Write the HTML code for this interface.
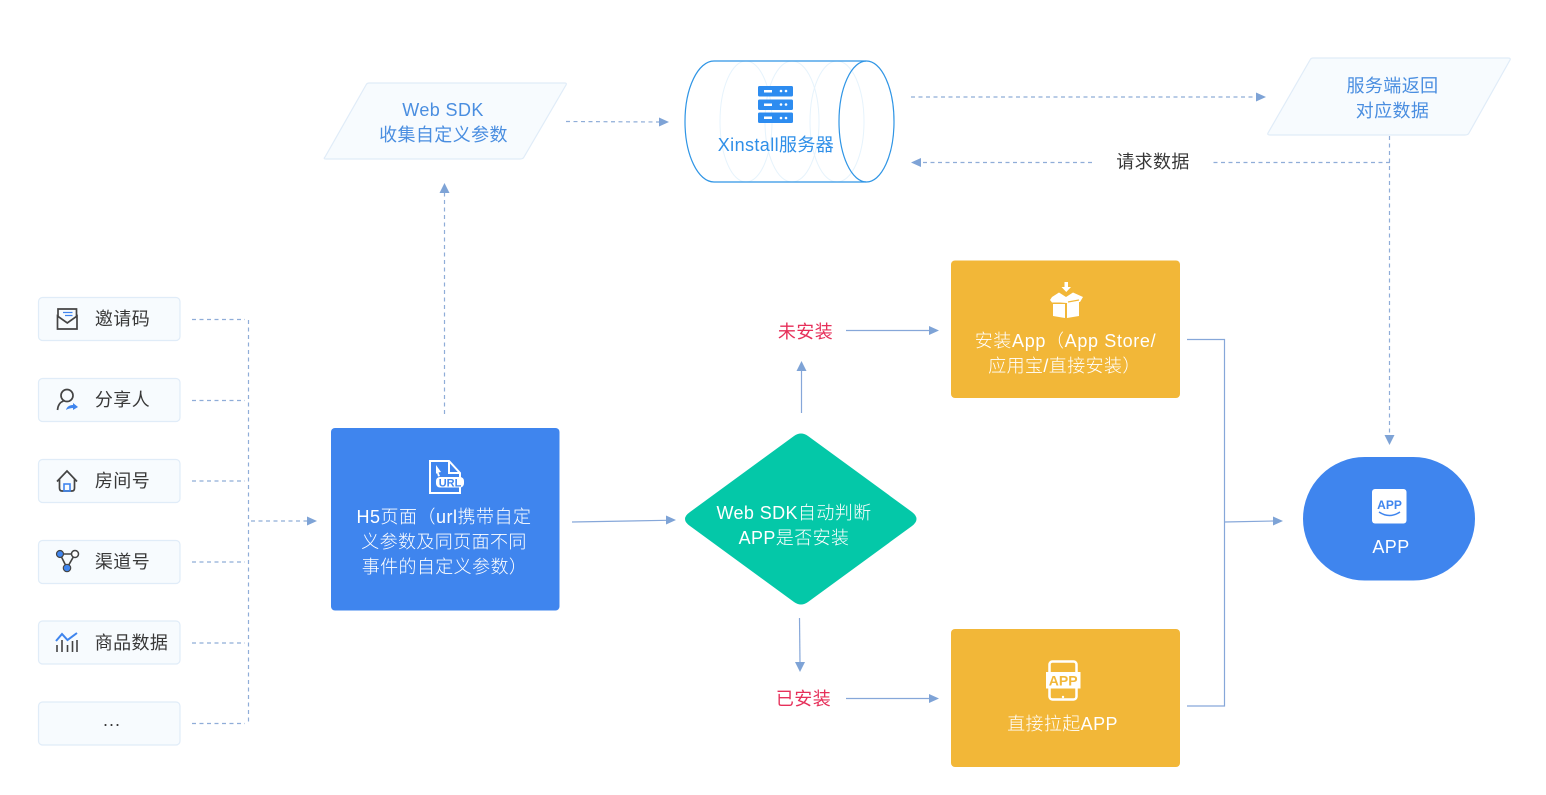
<!DOCTYPE html>
<html lang="zh">
<head>
<meta charset="utf-8">
<style>
html,body{margin:0;padding:0;background:#fff;width:1546px;height:795px;overflow:hidden}
svg{display:block}
text{font-family:"Liberation Sans","Noto Sans CJK SC",sans-serif;font-size:18px;text-anchor:middle;font-weight:300;letter-spacing:.4px}
.b{fill:#f7fbfe;stroke:#e0ecf8;stroke-width:1.2}
.d{fill:none;stroke:#8fadd8;stroke-width:1.2;stroke-dasharray:4 3.5}
.s{fill:none;stroke:#86a7d9;stroke-width:1.2}
.h{fill:#7ea3d6}
.k{fill:#383838;font-weight:400}
.w{fill:#fff}
.u{fill:#4a8ee0;font-weight:400}
.r{fill:#e6305a;font-weight:400}
.i{fill:none;stroke:#444;stroke-width:1.7}
.blue{fill:#3f85ee}
</style>
</head>
<body>
<svg width="1546" height="795" viewBox="0 0 1546 795" xmlns="http://www.w3.org/2000/svg">
<rect x="38.5" y="297.5" width="141.500" height="43" rx="4" class="b"/>
<rect x="38.5" y="378.5" width="141.500" height="43" rx="4" class="b"/>
<rect x="38.5" y="459.500" width="141.500" height="43" rx="4" class="b"/>
<rect x="38.5" y="540.500" width="141.500" height="43" rx="4" class="b"/>
<rect x="38.5" y="621" width="141.500" height="43" rx="4" class="b"/>
<rect x="38.500" y="702" width="141.500" height="43" rx="4" class="b"/>
<text x="122.500" y="325" class="k">邀请码</text>
<text x="122.500" y="406" class="k">分享人</text>
<text x="122.500" y="487" class="k">房间号</text>
<text x="122.500" y="568" class="k">渠道号</text>
<text x="131.500" y="649" class="k">商品数据</text>
<text x="112" y="726" class="k" style="letter-spacing:1px">...</text>

<!-- left icons -->
<path class="i" d="M57.500 316V329H77V316L67.300 323Z"/>
<path class="i" d="M58 316V309H76.500V316"/>
<path d="M63 312.500H72.500M65 315.500H72.500" stroke="#3f85ee" stroke-width="1.300" fill="none"/>
<circle cx="67" cy="395.500" r="6" class="i"/>
<path class="i" d="M57.500 410C58 404.500 60.500 402 63.500 401"/>
<path d="M66 410C67 406 70.500 405 73 405V403L78 407L73 410V408C71 408 68.500 408.500 66 410Z" fill="#3f85ee"/>
<path class="i" d="M57 481.500L67 471L77 481.500M59.500 479.500V488Q59.500 491 62 491H72Q74.500 491 74.500 488V479.500"/>
<rect x="64" y="484" width="6" height="7" fill="none" stroke="#3f85ee" stroke-width="1.600"/>
<path d="M60 554L67 568L75 554H60" stroke="#444" stroke-width="1.600" fill="none"/>
<circle cx="60" cy="554" r="3.500" fill="#3f85ee" stroke="#444" stroke-width="1.200"/>
<circle cx="75" cy="554" r="3.500" fill="#fff" stroke="#444" stroke-width="1.500"/>
<circle cx="67" cy="568" r="3.700" fill="#3f85ee" stroke="#444" stroke-width="1.200"/>
<path d="M56 641L62 634L67.500 640L77 633" stroke="#3f85ee" stroke-width="2" fill="none"/>
<path d="M57 645V652M62 640V652M67.500 645V652M72.500 641V652M77 640V652" stroke="#444" stroke-width="1.600" fill="none"/>

<!-- dashed input connectors -->
<path class="d" d="M192 319.500H245M192 400.500H245M192 481H245M192 562H245M192 643H245M192 723.500H245"/>
<path class="d" d="M248.500 320V722"/>
<path class="d" d="M251 521H308"/>
<path class="h" d="M317 521L307 516.500V525.500Z"/>

<!-- H5 -->
<rect x="331" y="428" width="228.500" height="182.500" rx="4" class="blue"/>
<path d="M430 461H449L460 473V493H430Z" fill="none" stroke="#fff" stroke-width="2"/>
<path d="M449 461V473H460" fill="none" stroke="#fff" stroke-width="2"/>
<path d="M436 465L441 472L438.500 472.500L440 476L438 476.500L437 473L436 474Z" fill="#fff"/>
<rect x="436" y="477" width="28" height="10.500" rx="4" class="w"/>
<text x="450" y="486.500" style="font-size:11px;font-weight:700;fill:#3f85ee;letter-spacing:0">URL</text>
<text x="444" y="523" class="w" style="letter-spacing:.5px">H5页面（url携带自定</text>
<text x="444" y="548" class="w">义参数及同页面不同</text>
<text x="444.500" y="573" class="w">事件的自定义参数）</text>

<!-- Web SDK -->
<path d="M369 83H565Q567 83 566 85L524 157Q523 159 520 159H326Q323 159 325 157L366 85Q367 83 369 83Z" class="b"/>
<text x="443" y="116" class="u">Web SDK</text>
<text x="443.500" y="141" class="u">收集自定义参数</text>
<path class="d" d="M444.500 414V193"/>
<path class="h" d="M444.500 183L439.500 193H449.500Z"/>
<path class="d" d="M566 121.500L660 122"/>
<path class="h" d="M669 122L659 117.500V126.500Z"/>

<!-- Cylinder -->
<ellipse cx="746" cy="121.500" rx="26" ry="60.500" fill="none" stroke="#e6f3fc" stroke-width="1"/>
<ellipse cx="792" cy="121.500" rx="27" ry="60.500" fill="none" stroke="#e6f3fc" stroke-width="1"/>
<ellipse cx="837" cy="121.500" rx="27" ry="60.500" fill="none" stroke="#e6f3fc" stroke-width="1"/>
<path d="M866 61H714C698 61 685 88 685 121.500C685 155 698 182 714 182H866" fill="none" stroke="#2f95e5" stroke-width="1.200"/>
<ellipse cx="866.500" cy="121.500" rx="27.500" ry="60.500" fill="none" stroke="#2f95e5" stroke-width="1.200"/>
<g fill="#2d8cf0">
<rect x="758" y="86" width="35" height="10.500" rx="1.500"/>
<rect x="758" y="99.500" width="35" height="10.500" rx="1.500"/>
<rect x="758" y="112.500" width="35" height="10.500" rx="1.500"/>
</g>
<g fill="#fff">
<rect x="764" y="90" width="8" height="2.500"/><rect x="764" y="103.500" width="8" height="2.500"/><rect x="764" y="116.500" width="8" height="2.500"/>
<circle cx="781" cy="91" r="1.300"/><circle cx="786" cy="91" r="1.300"/>
<circle cx="781" cy="104.500" r="1.300"/><circle cx="786" cy="104.500" r="1.300"/>
<circle cx="781" cy="118" r="1.300"/><circle cx="786" cy="118" r="1.300"/>
</g>
<text x="776" y="151" style="fill:#2f8fe8;font-weight:400">Xinstall服务器</text>

<!-- top right -->
<path class="d" d="M911 97H1256"/>
<path class="h" d="M1266 97L1256 92.500V101.500Z"/>
<path d="M1313 58H1508Q1511 58 1510 60L1469 133Q1468 135 1465 135H1270Q1267 135 1268 133L1310 60Q1311 58 1313 58Z" class="b"/>
<text x="1392.500" y="92" class="u">服务端返回</text>
<text x="1392.500" y="117" class="u">对应数据</text>
<path class="d" d="M1389.500 136V435"/>
<path class="h" d="M1389.500 445L1384.500 435H1394.500Z"/>
<path class="d" d="M1390 162.500H1210M1092 162.500H921"/>
<path class="h" d="M911 162.500L921 158V167Z"/>
<text x="1153" y="168" class="k">请求数据</text>

<!-- center -->
<path class="s" d="M572 522L667 520.300"/>
<path class="h" d="M676 520L666 515.500V524.500Z"/>
<path d="M794 436Q801 431 808 436L912 512Q921 519 912 526L808 602Q801 607 794 602L690 526Q680 519 690 512Z" fill="#04c8a8"/>
<text x="794" y="519" class="w">Web SDK自动判断</text>
<text x="794" y="544" class="w">APP是否安装</text>
<path class="s" d="M801.500 413V370"/>
<path class="h" d="M801.500 361L796.500 371H806.500Z"/>
<path class="s" d="M799.500 618L800 663"/>
<path class="h" d="M800 672L795 662H805Z"/>
<text x="805.500" y="338" class="r">未安装</text>
<text x="803.500" y="705" class="r">已安装</text>
<path class="s" d="M846 330.500H930"/>
<path class="h" d="M939 330.500L929 326V335Z"/>
<path class="s" d="M846 698.500H930"/>
<path class="h" d="M939 698.500L929 694V703Z"/>

<!-- yellow boxes -->
<rect x="951" y="260.500" width="229" height="137.500" rx="4" fill="#f2b738"/>
<rect x="951" y="629" width="229" height="138" rx="4" fill="#f2b738"/>
<path d="M1064.500 282H1068V287H1071L1066.300 292L1061.500 287H1064.500Z" class="w"/>
<path d="M1052 297L1059 292.500L1066 297L1073 292.500L1083 297L1080 302H1079V316L1067 318V303L1060 302.500H1052L1050 300Z" class="w"/>
<path d="M1053 304H1065V318L1053 316Z" class="w"/>
<path d="M1068 302L1079 300" stroke="#f2b738" stroke-width="1.200"/>
<text x="1065.500" y="347" class="w" style="letter-spacing:.65px">安装App（App Store/</text>
<text x="1064.500" y="372" class="w">应用宝/直接安装）</text>
<rect x="1049.500" y="661.500" width="27" height="38" rx="3" fill="none" stroke="#fff" stroke-width="2.500"/>
<rect x="1046" y="672" width="34.500" height="16.500" class="w"/>
<text x="1063.200" y="685.500" style="font-size:14px;font-weight:700;fill:#f2b738;letter-spacing:0">APP</text>
<circle cx="1063" cy="697" r="1.200" class="w"/>
<text x="1062.500" y="730" class="w">直接拉起APP</text>

<!-- bracket -->
<path class="s" d="M1187 339.500H1224.500V706H1187"/>
<path class="s" d="M1224.500 522L1274 521"/>
<path class="h" d="M1283 521L1273 516.500V525.500Z"/>

<!-- APP -->
<rect x="1303" y="457" width="172" height="123.500" rx="61.700" class="blue"/>
<rect x="1372" y="489" width="34.500" height="34.500" rx="3" class="w"/>
<text x="1389.500" y="509" style="font-size:12px;font-weight:700;fill:#3f85ee;letter-spacing:0">APP</text>
<path d="M1379 512Q1389.500 519 1400 512" fill="none" stroke="#3f85ee" stroke-width="1.500"/>
<text x="1391" y="553" class="w">APP</text>
</svg>
</body>
</html>
